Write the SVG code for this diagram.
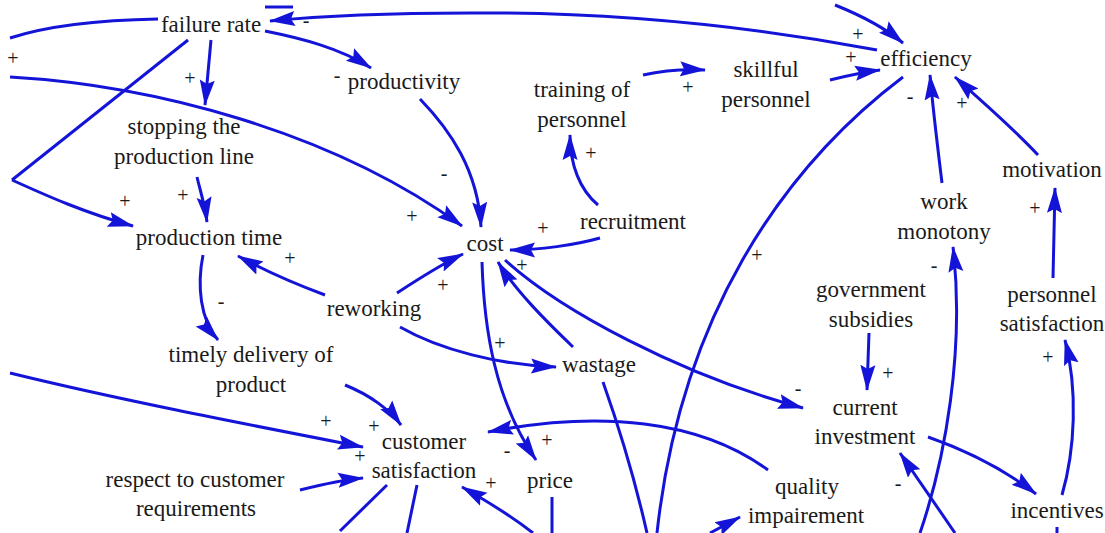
<svg xmlns="http://www.w3.org/2000/svg" width="1105" height="533" viewBox="0 0 1105 533">
<style>
.n{font-family:"Liberation Serif","Times New Roman",serif;font-size:23px;fill:#1a1a1a;text-anchor:middle}
.p{font-family:"Liberation Serif","Times New Roman",serif;font-size:20px;fill:#1a1a1a;text-anchor:middle}
.e path{fill:none;stroke:#1414d8;stroke-width:3}
</style>
<defs>
<marker id="a" viewBox="0 0 26 17" refX="25" refY="8.5" markerWidth="26" markerHeight="17" markerUnits="userSpaceOnUse" orient="auto">
<path d="M0,1 L26,8.5 L0,16 L4,8.5 z" fill="#1414d8"/>
</marker>
</defs>
<rect width="1105" height="533" fill="#ffffff"/>
<g class="e" id="connectors">
<path d="M877,50 C760,28 620,12 470,13 C380,13 320,16 270,21" marker-end="url(#a)"/>
<path d="M10,38 C50,25 100,20 158,19"/>
<path d="M265,7 L293,7"/>
<path d="M188,40 L12,180"/>
<path d="M12,180 C45,195 85,213 133,226" marker-end="url(#a)"/>
<path d="M10,77 C150,85 330,130 462,226" marker-end="url(#a)"/>
<path d="M265,31 C300,38 340,48 371,68" marker-end="url(#a)"/>
<path d="M211,40 L205,105" marker-end="url(#a)"/>
<path d="M420,99 C450,130 478,170 481,227" marker-end="url(#a)"/>
<path d="M197,177 C200,190 205,205 207,222" marker-end="url(#a)"/>
<path d="M325,295 C290,282 260,268 238,256" marker-end="url(#a)"/>
<path d="M397,293 C420,278 440,265 463,254" marker-end="url(#a)"/>
<path d="M203,255 C197,285 200,320 218,340" marker-end="url(#a)"/>
<path d="M598,205 C580,190 570,165 570,135" marker-end="url(#a)"/>
<path d="M643,75 C665,70 685,69 705,70" marker-end="url(#a)"/>
<path d="M830,80 C850,75 865,72 880,70" marker-end="url(#a)"/>
<path d="M835,5 C860,15 885,28 903,43" marker-end="url(#a)"/>
<path d="M600,238 C575,245 540,250 510,250" marker-end="url(#a)"/>
<path d="M942,183 C938,150 933,110 930,75" marker-end="url(#a)"/>
<path d="M1038,155 C1010,125 980,100 955,77" marker-end="url(#a)"/>
<path d="M1053,278 L1055,188" marker-end="url(#a)"/>
<path d="M869,333 L867,390" marker-end="url(#a)"/>
<path d="M1062,495 C1075,450 1078,390 1065,340" marker-end="url(#a)"/>
<path d="M928,437 C965,450 1005,470 1036,494" marker-end="url(#a)"/>
<path d="M903,77 C780,170 680,320 657,533"/>
<path d="M505,260 C560,310 680,375 803,408" marker-end="url(#a)"/>
<path d="M573,347 C545,320 515,290 498,262" marker-end="url(#a)"/>
<path d="M400,327 C440,350 500,365 556,367" marker-end="url(#a)"/>
<path d="M482,262 C484,330 495,400 536,460" marker-end="url(#a)"/>
<path d="M345,385 C370,395 390,410 401,425" marker-end="url(#a)"/>
<path d="M10,373 C120,400 250,425 363,447" marker-end="url(#a)"/>
<path d="M300,490 C320,485 340,480 363,478" marker-end="url(#a)"/>
<path d="M387,485 L340,531"/>
<path d="M417,485 L407,533"/>
<path d="M533,533 C510,515 485,500 462,487" marker-end="url(#a)"/>
<path d="M552,497 L552,533"/>
<path d="M603,382 C620,430 635,480 647,533"/>
<path d="M710,533 L740,517" marker-end="url(#a)"/>
<path d="M955,533 L900,453" marker-end="url(#a)"/>
<path d="M920,533 C945,460 965,350 953,247" marker-end="url(#a)"/>
<path d="M1057,527 L1057,533"/>
<path d="M768,470 C700,420 600,410 488,432" marker-end="url(#a)"/>
</g>
<g id="polarities">
<text class="p" x="13" y="65">+</text>
<text class="p" x="306" y="27">-</text>
<text class="p" x="190" y="85">+</text>
<text class="p" x="337" y="82">-</text>
<text class="p" x="858" y="41">+</text>
<text class="p" x="851" y="64">+</text>
<text class="p" x="688" y="94">+</text>
<text class="p" x="591" y="160">+</text>
<text class="p" x="444" y="180">-</text>
<text class="p" x="183" y="202">+</text>
<text class="p" x="125" y="208">+</text>
<text class="p" x="412" y="223">+</text>
<text class="p" x="543" y="235">+</text>
<text class="p" x="910" y="103">-</text>
<text class="p" x="962" y="110">+</text>
<text class="p" x="1035" y="215">+</text>
<text class="p" x="290" y="265">+</text>
<text class="p" x="443" y="292">+</text>
<text class="p" x="522" y="272">+</text>
<text class="p" x="221" y="308">-</text>
<text class="p" x="757" y="262">+</text>
<text class="p" x="934" y="272">-</text>
<text class="p" x="500" y="350">+</text>
<text class="p" x="1048" y="364">+</text>
<text class="p" x="888" y="380">+</text>
<text class="p" x="798" y="395">-</text>
<text class="p" x="326" y="428">+</text>
<text class="p" x="374" y="433">+</text>
<text class="p" x="360" y="463">+</text>
<text class="p" x="507" y="457">-</text>
<text class="p" x="547" y="447">+</text>
<text class="p" x="491" y="490">+</text>
<text class="p" x="898" y="490">-</text>
</g>
<g id="n-failure-rate"><text class="n" x="211" y="32">failure rate</text></g>
<g id="n-productivity"><text class="n" x="404" y="89">productivity</text></g>
<g id="n-training"><text class="n" x="582" y="97">training of</text><text class="n" x="582" y="127">personnel</text></g>
<g id="n-skillful"><text class="n" x="766" y="77">skillful</text><text class="n" x="766" y="107">personnel</text></g>
<g id="n-efficiency"><text class="n" x="926" y="66">efficiency</text></g>
<g id="n-stopping"><text class="n" x="184" y="134">stopping the</text><text class="n" x="184" y="164">production line</text></g>
<g id="n-production-time"><text class="n" x="209" y="245">production time</text></g>
<g id="n-cost"><text class="n" x="485" y="251">cost</text></g>
<g id="n-recruitment"><text class="n" x="633" y="229">recruitment</text></g>
<g id="n-work-monotony"><text class="n" x="944" y="209">work</text><text class="n" x="944" y="239">monotony</text></g>
<g id="n-motivation"><text class="n" x="1052" y="177">motivation</text></g>
<g id="n-reworking"><text class="n" x="374" y="316">reworking</text></g>
<g id="n-government"><text class="n" x="871" y="297">government</text><text class="n" x="871" y="327">subsidies</text></g>
<g id="n-personnel-satisfaction"><text class="n" x="1052" y="302">personnel</text><text class="n" x="1052" y="331">satisfaction</text></g>
<g id="n-timely"><text class="n" x="251" y="362">timely delivery of</text><text class="n" x="251" y="392">product</text></g>
<g id="n-wastage"><text class="n" x="599" y="372">wastage</text></g>
<g id="n-current-investment"><text class="n" x="865" y="415">current</text><text class="n" x="865" y="444">investment</text></g>
<g id="n-customer-satisfaction"><text class="n" x="424" y="449">customer</text><text class="n" x="424" y="478">satisfaction</text></g>
<g id="n-price"><text class="n" x="550" y="488">price</text></g>
<g id="n-respect"><text class="n" x="195" y="487">respect to customer</text><text class="n" x="196" y="516">requirements</text></g>
<g id="n-quality"><text class="n" x="807" y="494">quality</text><text class="n" x="806" y="523">impairement</text></g>
<g id="n-incentives"><text class="n" x="1057" y="518">incentives</text></g>
</svg>
